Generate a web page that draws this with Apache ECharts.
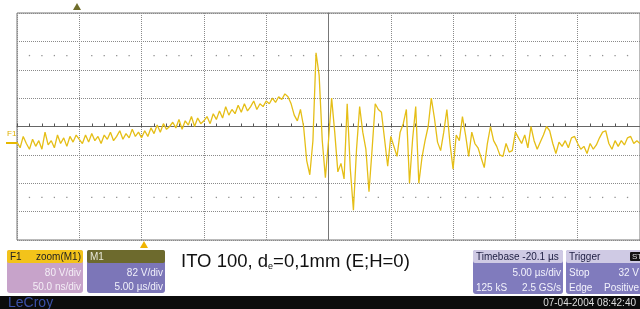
<!DOCTYPE html>
<html>
<head>
<meta charset="UTF-8">
<title>ITO 100 scope trace</title>
<script src="https://cdn.jsdelivr.net/npm/echarts@6/dist/echarts.min.js"></script>
<style>
  html, body { margin: 0; padding: 0; background: #fff; }
  #main { width: 640px; height: 309px; }
</style>
</head>
<body>
<div id="main"></div>
<script type="text/javascript">
// screen in divisions: 10 x 8, trace sampled every 0.05 div
var startDiv = -5;
var sampleStep = 0.05;
// F1 trace (divisions, 80 V/div)
var traceDiv = [
  -0.55, -0.75, -0.35, -0.6, -0.8, -0.45, -0.7, -0.5, -0.8, -0.2, -0.65, -0.5, -0.75, -0.3, -0.6, -0.4, -0.7, -0.35, -0.55, -0.3, -0.45,
  -0.6, -0.3, -0.55, -0.25, -0.5, -0.35, -0.6, -0.3, -0.45, -0.2, -0.5, -0.35, -0.15, -0.45, -0.25, -0.4, -0.1, -0.35, -0.2, -0.4,
  -0.15, -0.35, -0.05, -0.25, 0.05, -0.2, 0.1, -0.1, 0.0, 0.15, -0.05, 0.25, -0.1, 0.2, 0.05, 0.35, 0.0, 0.3, 0.1, 0.2,
  0.35, 0.1, 0.45, 0.25, 0.55, 0.3, 0.7, 0.4, 0.6, 0.45, 0.75, 0.5, 0.8, 0.55, 0.7, 0.9, 0.6, 0.8, 0.7, 0.9,
  0.8, 1.0, 0.85, 1.05, 0.95, 1.15, 1.05, 0.8, 0.4, 0.2, 0.6, 0.0,
  -1.2, -1.7, -0.5, 2.6, 1.8, -0.5, -1.8, -0.5, 1.0, -0.2, -1.6, -1.3, -1.85, 0.8, -1.5, -2.95, -0.8, 0.7, -0.2, -0.8, -2.3, -0.8, 0.8, 0.6,
  0.5, -0.45, -1.4, -0.35, -0.7, -1.05, -0.2, 0.1, 0.6, -2.0, -0.45, 0.7, -2.0, -1.1, -0.5, 0.0, 1.0, 0.3, -0.55, -0.85, -0.2, 0.6, -0.6, -1.5,
  -0.3, -0.5, 0.35, -0.3, -1.05, -0.2, -0.6, -0.75, -1.1, -1.45, -0.6, 0.0, -0.5, -0.7, -1.0, -1.05, -0.6, -0.9, -0.85, -0.2,
  -0.4, -0.6, -0.3, -0.75, 0.0, -0.5, -0.8, -0.55, -0.3, 0.0, -0.15, -0.6, -0.95, -0.55, -0.7, -0.5, -0.75, -0.4, -0.35, -0.6,
  -0.8, -0.7, -0.95, -0.6, -0.8, -0.65, -0.4, -0.2, -0.15, -0.6, -0.8, -0.5, -0.7, -0.5, -0.65, -0.4, -0.35, -0.6, -0.5, -0.6
];
var dotRows = [2.5, -2.5];   // dotted graticule rows
var minorPerDiv = 5;

var points = [];
for (var i = 0; i < traceDiv.length; i++) {
  points.push([startDiv + i * sampleStep, traceDiv[i]]);
}
var dots = [];
for (var r = 0; r < dotRows.length; r++) {
  for (var k = 0; k <= 10 * minorPerDiv; k++) {
    if (k % minorPerDiv === 0) continue;
    dots.push([startDiv + k / minorPerDiv, dotRows[r]]);
  }
}

var narrow = "'Liberation Sans Narrow', 'Liberation Sans', Arial, sans-serif";
function txt(x, y, s, color, align, size) {
  return { type: 'text', x: x, y: y, z: 10,
    style: { text: s, fill: color, font: (size || 10) + 'px ' + narrow, textAlign: align || 'left', textVerticalAlign: 'middle' } };
}
function box(x, y, w, h, color, r) {
  return { type: 'rect', z: 5, shape: { x: x, y: y, width: w, height: h, r: r || 0 }, style: { fill: color } };
}

var app = echarts.init(document.getElementById('main'));
app.setOption({
  animation: false,
  backgroundColor: '#ffffff',
  grid: { left: 17, top: 13, width: 624, height: 227, show: true, borderColor: '#777', borderWidth: 1 },
  xAxis: {
    type: 'value', min: -5, max: 5, interval: 1,
    axisLine: { onZero: true, lineStyle: { color: '#666', width: 1 } },
    axisTick: { show: true, inside: true, length: 3, lineStyle: { color: '#555' } },
    minorTick: { show: true, splitNumber: 5, length: 3, lineStyle: { color: '#555' } },
    axisLabel: { show: false },
    splitLine: { show: true, lineStyle: { color: '#8a8a8a', type: 'dotted', width: 1 } }
  },
  yAxis: {
    type: 'value', min: -4, max: 4, interval: 1,
    axisLine: { onZero: true, lineStyle: { color: '#777', width: 1 } },
    axisTick: { show: false },
    axisLabel: { show: false },
    splitLine: { show: true, lineStyle: { color: '#8a8a8a', type: 'dotted', width: 1 } }
  },
  series: [
    {
      type: 'scatter', data: dots, symbol: 'rect', symbolSize: 1.3, silent: true,
      itemStyle: { color: '#777' }
    },
    {
      type: 'line', data: points, showSymbol: false, z: 4,
      lineStyle: { color: '#e5be16', width: 1.3 }
    }
  ],
  graphic: [
    // trigger / position markers
    { type: 'polygon', shape: { points: [[73, 10], [81, 10], [77, 3]] }, style: { fill: '#6f6d2a' } },
    { type: 'polygon', shape: { points: [[140, 248], [148, 248], [144, 241]] }, style: { fill: '#f0b400' } },
    txt(7, 134, 'F1', '#e0b000', 'left', 8),
    { type: 'rect', shape: { x: 6, y: 142, width: 11, height: 2 }, style: { fill: '#e6b800' } },

    // F1 panel
    box(7, 250, 76, 43, '#c7a3ca', 3),
    box(7, 250, 76, 13, '#f3c31a', 2),
    txt(10, 257, 'F1', '#222'),
    txt(81, 257, 'zoom(M1)', '#222', 'right'),
    txt(81, 273, '80 V/div', '#f4eef6', 'right'),
    txt(81, 287, '50.0 ns/div', '#f4eef6', 'right'),

    // M1 panel
    box(87, 250, 78, 43, '#7c76b8', 3),
    box(87, 250, 78, 13, '#6d6a2d', 2),
    txt(90, 257, 'M1', '#e8e8d8'),
    txt(163, 273, '82 V/div', '#f0f0fa', 'right'),
    txt(163, 287, '5.00 \u00b5s/div', '#f0f0fa', 'right'),

    // title
    {
      type: 'text', x: 181, y: 262, z: 10,
      style: {
        text: '{a|ITO 100, d}{s|e}{a|=0,1mm (E;H=0)}',
        textVerticalAlign: 'middle',
        rich: {
          a: { fontSize: 18.5, fontFamily: "'Liberation Sans', Arial, sans-serif", fill: '#111', lineHeight: 22 },
          s: { fontSize: 9, fontFamily: "'Liberation Sans', Arial, sans-serif", fill: '#111', padding: [10, 0, 0, 0], lineHeight: 22 }
        }
      }
    },

    // Timebase panel
    box(473, 250, 90, 44, '#807bbd', 3),
    box(473, 250, 90, 13, '#cfcae4', 2),
    txt(476, 257, 'Timebase -20.1 \u00b5s', '#1c1c40'),
    txt(561, 273, '5.00 \u00b5s/div', '#f2f2fc', 'right'),
    txt(476, 288, '125 kS', '#f2f2fc'),
    txt(561, 288, '2.5 GS/s', '#f2f2fc', 'right'),

    // Trigger panel
    box(566, 250, 80, 44, '#807bbd', 3),
    box(566, 250, 80, 13, '#cfcae4', 2),
    txt(569, 257, 'Trigger', '#1c1c40'),
    box(630, 252, 12, 9, '#111', 1),
    txt(632, 257, 'ST', '#ddd', 'left', 8),
    txt(569, 273, 'Stop', '#f2f2fc'),
    txt(639, 273, '32 V', '#f2f2fc', 'right'),
    txt(569, 288, 'Edge', '#f2f2fc'),
    txt(639, 288, 'Positive', '#f2f2fc', 'right'),

    // bottom bar
    box(0, 296, 640, 13, '#0c0c0c', 0),
    txt(8, 303, 'LeCroy', '#3b50a8', 'left', 14),
    txt(636, 303, '07-04-2004 08:42:40', '#dddddd', 'right', 10)
  ]
});
</script>
</body>
</html>
